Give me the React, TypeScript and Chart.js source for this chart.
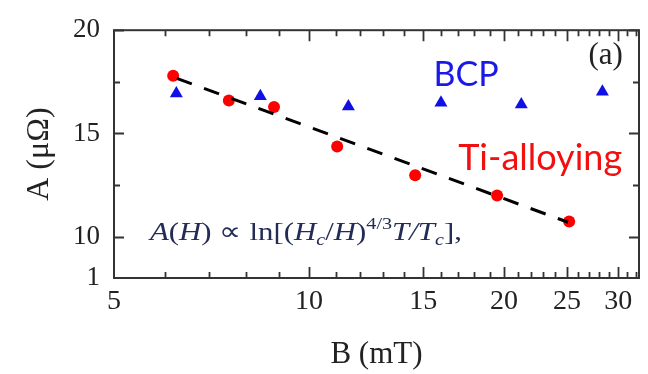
import React, { useEffect, useRef } from 'react';
import { Chart, registerables } from 'chart.js';

Chart.register(...registerables);

// Ti-alloying (red circles)
const tiB = [6.17, 7.52, 8.83, 11.05, 14.58, 19.51, 25.2];
const tiA = [17.79, 16.6, 16.28, 14.37, 12.98, 12.0, 10.74];
// BCP (blue triangles)
const bcpB = [6.24, 8.41, 11.5, 15.98, 21.26, 28.36];
const bcpA = [16.93, 16.8, 16.31, 16.49, 16.4, 17.02];
// dashed fit line
const fitB = [6.25, 25.1];
const fitA = [17.67, 10.7];

const xTickValues = [5, 10, 15, 20, 25, 30];
const xTickLabels = ['5', '10', '15', '20', '25', '30'];
const xMajorMarks = [10, 15, 20, 25, 30];
const xMinorMarks = [6, 7, 8, 9, 11, 12, 13, 14, 16, 17, 18, 19, 21, 22, 23, 24, 26, 27, 28, 29, 31, 32];
const yTickValues = [8, 10, 15, 20];
const yTickLabels = ['1', '10', '15', '20'];
const yMajorMarks = [10, 15, 20];
const yMinorMarks = [12.5, 17.5];

const SERIF = "'Liberation Serif', 'Times New Roman', serif";
const SANS = "Lato, 'Open Sans', sans-serif";

const framePlugin = {
  id: 'frameTicks',
  afterDraw(chart: any) {
    const { ctx, chartArea: a, scales } = chart;
    const x = scales.x;
    const y = scales.y;
    ctx.save();
    ctx.strokeStyle = '#333333';
    ctx.lineWidth = 1.8;
    ctx.beginPath();
    const xm = (vals: number[], len: number) => {
      vals.forEach((v) => {
        const px = Math.round(x.getPixelForValue(v)) + 0.5;
        ctx.moveTo(px, a.bottom);
        ctx.lineTo(px, a.bottom - len);
        ctx.moveTo(px, a.top);
        ctx.lineTo(px, a.top + len);
      });
    };
    const ym = (vals: number[], len: number) => {
      vals.forEach((v) => {
        const py = Math.round(y.getPixelForValue(v)) + 0.5;
        ctx.moveTo(a.left, py);
        ctx.lineTo(a.left + len, py);
        ctx.moveTo(a.right, py);
        ctx.lineTo(a.right - len, py);
      });
    };
    xm(xMajorMarks, 11);
    xm(xMinorMarks, 6);
    ym(yMajorMarks, 10);
    ym(yMinorMarks, 6);
    ctx.stroke();
    ctx.lineWidth = 2;
    ctx.strokeRect(a.left, a.top, a.right - a.left, a.bottom - a.top);
    ctx.restore();
  },
};

const textPlugin = {
  id: 'annotText',
  afterDatasetsDraw(chart: any) {
    const { ctx, scales } = chart;
    const x = scales.x;
    const y = scales.y;
    ctx.save();
    ctx.textBaseline = 'alphabetic';

    ctx.font = `34px ${SANS}`;
    ctx.fillStyle = '#1a1ae6';
    ctx.textAlign = 'center';
    ctx.fillText('BCP', x.getPixelForValue(17.47), y.getPixelForValue(17.3));

    ctx.font = `36px ${SANS}`;
    ctx.fillStyle = '#f01010';
    ctx.textAlign = 'left';
    ctx.fillText('Ti-alloying', x.getPixelForValue(16.99), y.getPixelForValue(13.21));

    ctx.font = `31px ${SERIF}`;
    ctx.fillStyle = '#222222';
    ctx.textAlign = 'right';
    ctx.fillText('(a)', x.getPixelForValue(30.5), y.getPixelForValue(18.35));

    // formula
    const parts: [string, boolean, number][] = [
      ['A', true, 0], ['(', false, 0], ['H', true, 0], [')', false, 0], [' \u221D ln[(', false, 0],
      ['H', true, 0], ['c', true, 1], ['/', false, 0], ['H', true, 0], [')', false, 0],
      ['4/3', false, -1], ['T', true, 0], ['/', true, 0], ['T', true, 0], ['c', true, 1], ['],', false, 0],
    ];
    const fontFor = (it: boolean, lvl: number) => `${it ? 'italic ' : ''}${lvl === 0 ? 26 : 17}px ${SERIF}`;
    let total = 0;
    parts.forEach(([t, it, lvl]) => {
      ctx.font = fontFor(it, lvl);
      total += ctx.measureText(t).width;
    });
    const x0 = x.getPixelForValue(5.68);
    const base = y.getPixelForValue(9.86);
    const targetW = 312;
    ctx.translate(x0, base);
    ctx.scale(targetW / total, 1);
    ctx.fillStyle = '#232c55';
    ctx.textAlign = 'left';
    let cx = 0;
    parts.forEach(([t, it, lvl]) => {
      ctx.font = fontFor(it, lvl);
      const dy = lvl === 1 ? 5 : lvl === -1 ? -11 : 0;
      ctx.fillText(t, cx, dy);
      cx += ctx.measureText(t).width;
    });
    ctx.restore();
  },
};

export default function App() {
  const ref = useRef<HTMLCanvasElement>(null);

  useEffect(() => {
    if (!ref.current) return;
    const chart = new Chart(ref.current, {
      type: 'scatter',
      data: {
        datasets: [
          {
            label: 'fit',
            data: fitB.map((b, i) => ({ x: b, y: fitA[i] })),
            showLine: true,
            borderColor: '#000000',
            borderWidth: 3,
            borderDash: [16, 13],
            pointRadius: 0,
            fill: false,
          },
          {
            label: 'Ti-alloying',
            data: tiB.map((b, i) => ({ x: b, y: tiA[i] })),
            pointStyle: 'circle',
            pointRadius: 6,
            backgroundColor: '#ff0000',
            borderColor: '#ff0000',
            borderWidth: 0,
          },
          {
            label: 'BCP',
            data: bcpB.map((b, i) => ({ x: b, y: bcpA[i] })),
            pointStyle: 'triangle',
            pointRadius: 7.5,
            backgroundColor: '#1010e6',
            borderColor: '#1010e6',
            borderWidth: 0,
          },
        ],
      },
      options: {
        animation: false,
        responsive: false,
        layout: { padding: { top: 20, right: 9, left: 0, bottom: 0 } },
        plugins: { legend: { display: false }, tooltip: { enabled: false } },
        scales: {
          x: {
            type: 'logarithmic',
            min: 5,
            max: 32.3,
            grid: { display: false, drawTicks: false },
            border: { display: false },
            afterBuildTicks: (s: any) => {
              s.ticks = xTickValues.map((v) => ({ value: v }));
            },
            afterFit: (s: any) => {
              s.height = 96;
            },
            ticks: {
              autoSkip: false,
              maxRotation: 0,
              padding: 7,
              color: '#222222',
              font: { family: SERIF, size: 28 },
              callback: (_v: any, i: number) => xTickLabels[i],
            },
            title: {
              display: true,
              text: 'B (mT)',
              color: '#222222',
              font: { family: SERIF, size: 31 },
              padding: { top: 0, bottom: 1 },
            },
          },
          y: {
            type: 'linear',
            min: 8,
            max: 20,
            grid: { display: false, drawTicks: false },
            border: { display: false },
            afterBuildTicks: (s: any) => {
              s.ticks = yTickValues.map((v) => ({ value: v }));
            },
            afterFit: (s: any) => {
              s.width = 114;
            },
            ticks: {
              autoSkip: false,
              padding: 14,
              color: '#222222',
              font: { family: SERIF, size: 27 },
              callback: (_v: any, i: number) => yTickLabels[i],
            },
            title: {
              display: true,
              text: 'A (\u03BC\u03A9)',
              color: '#222222',
              font: { family: SERIF, size: 32 },
              padding: { top: 20, bottom: 0 },
            },
          },
        },
      },
      plugins: [framePlugin, textPlugin],
    } as any);
    return () => chart.destroy();
  }, []);

  return (
    <div style={{ position: 'fixed', left: 0, top: 0, width: 648, height: 374, background: '#ffffff' }}>
      <canvas ref={ref} width={648} height={374} style={{ display: 'block' }} />
    </div>
  );
}
